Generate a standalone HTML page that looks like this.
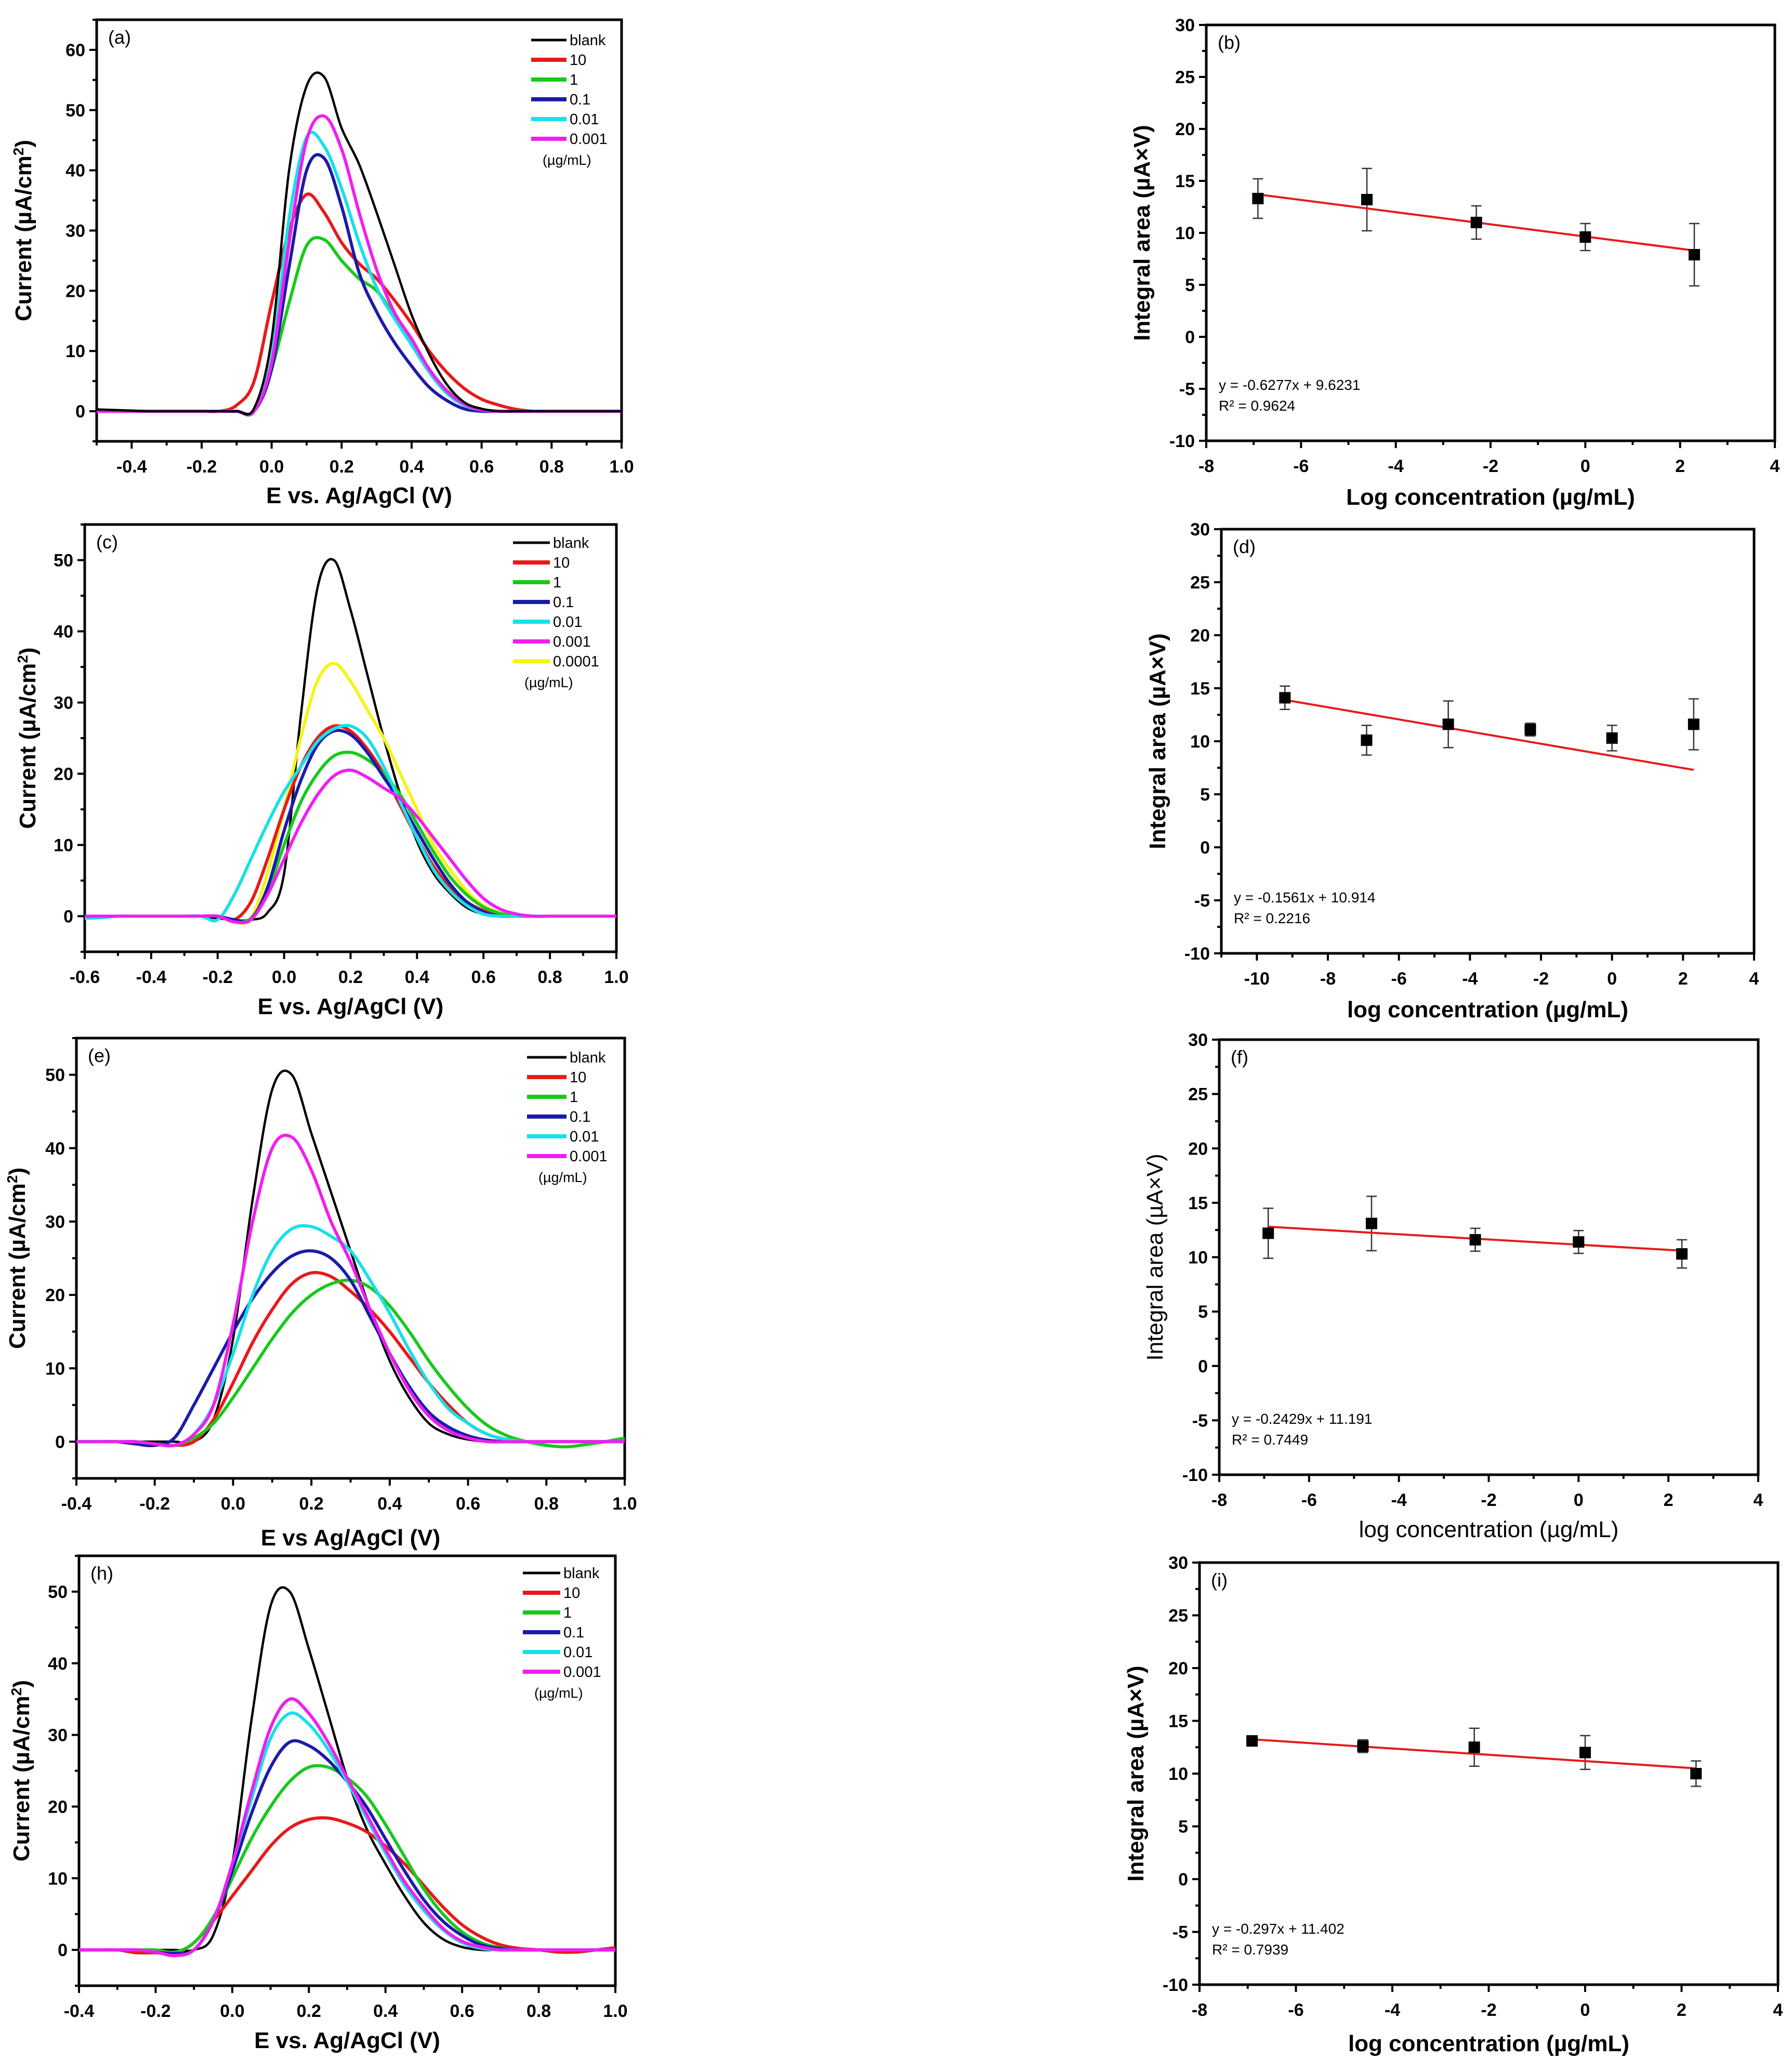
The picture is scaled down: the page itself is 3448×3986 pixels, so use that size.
<!DOCTYPE html>
<html><head><meta charset="utf-8"><style>
html,body{margin:0;padding:0;background:#fff;}
svg{display:block;}
text{font-family:"Liberation Sans",Arial,sans-serif;}
</style></head><body>
<svg id="fig" xmlns="http://www.w3.org/2000/svg" width="3448" height="3986" viewBox="0 0 3448 3986"></svg>
<script>
// ---------- DATA ----------
const E_A = [-0.5,-0.45,-0.4,-0.35,-0.3,-0.25,-0.2,-0.15,-0.1,-0.05,0,0.05,0.1,0.15,0.2,0.25,0.3,0.35,0.4,0.45,0.5,0.55,0.6,0.65,0.7,0.75,0.8,0.85,0.9,0.95,1.0];
const A_blank = [0.3,0.2,0.1,0,0,0,0,0,0,0.5,12,40,54,55.5,47,41,33,24.5,16,9.5,4.5,1.5,0.4,0,0,0,0,0,0,0,0];
const A_10    = [0,0,0,0,0,0,0,0,1,5,18,30,36,33,28,24.5,22,18.5,14.5,10,6.5,3.8,2,1,0.3,0,0,0,0,0,0];
const A_1     = [0,0,0,0,0,0,0,0,0,0,7,18,27.5,28.5,25,22,20,16,11.7,7,3.5,1.3,0.3,0,0,0,0,0,0,0,0];
const A_01    = [0,0,0,0,0,0,0,0,0,0,7,24,40,42,34,23,16.5,11.5,7.5,4,1.8,0.4,0,0,0,0,0,0,0,0,0];
const A_001   = [0,0,0,0,0,0,0,0,0,0,9,32,45.5,44,37,28,20.5,15.5,11,6.5,3,1,0.2,0,0,0,0,0,0,0,0];
const A_0001  = [0,0,0,0,0,0,0,0,0,0,8,28,45,49,43.5,33,23.5,16.5,12,7,3.4,1.2,0.2,0,0,0,0,0,0,0,0];

const E_C = [-0.6,-0.55,-0.5,-0.45,-0.4,-0.35,-0.3,-0.25,-0.2,-0.15,-0.1,-0.05,0,0.05,0.1,0.15,0.2,0.25,0.3,0.35,0.4,0.45,0.5,0.55,0.6,0.65,0.7,0.75,0.8,0.85,0.9,0.95,1.0];
const C_blank = [0,0,0,0,0,0,0,0,-0.3,-0.5,-0.5,0.5,6,28,46,50,43,34,25,17,10.5,6,3.2,1.2,0.3,0,0,0,0,0,0,0,0];
const C_10    = [0,0,0,0,0,0,0,0,0,-0.5,2,8,15,21,25,26.7,26,23.5,20,15.5,11,7,4,2,0.8,0.2,0,0,0,0,0,0,0];
const C_1     = [0,0,0,0,0,0,0,0,0,-0.5,-0.3,3.5,10,16,20,22.5,23,22,20,17,13,9,5.5,3,1.3,0.4,0,0,0,0,0,0,0];
const C_01    = [0,0,0,0,0,0,0,0,0,-0.5,-0.5,4,12,19,24,26,25.5,23,19.5,16,12,8,4.5,2,0.6,0,0,0,0,0,0,0,0];
const C_001   = [-0.3,-0.2,0,0,0,0,0,0,-0.5,3,8,13,17.5,21,24.5,26.3,26.7,25,21,16,11,6.5,3.5,1.5,0.3,0,0,0,0,0,0,0,0];
const C_0001  = [0,0,0,0,0,0,0,0,0,-0.8,-0.5,3,8,13,17,19.7,20.5,19.5,18,16.5,14,11,8,5,2.5,1,0.3,0,0,0,0,0,0];
const C_00001 = [0,0,0,0,0,0,0,0,0,-0.8,-0.3,6,15,25,33,35.5,33,29,25,20,15,10,6.5,3.5,1.5,0.5,0,0,0,0,0,0,0];

const E_E = [-0.4,-0.35,-0.3,-0.25,-0.2,-0.15,-0.1,-0.05,0,0.05,0.1,0.15,0.2,0.25,0.3,0.35,0.4,0.45,0.5,0.55,0.6,0.65,0.7,0.75,0.8,0.85,0.9,0.95,1.0];
const EE_blank = [0,0,0,0,0,0,0,3,14,33,48,50,42,34,26,18,11,6,2.5,1,0.3,0,0,0,0,0,0,0,0];
const EE_10    = [0,0,0,0,-0.3,-0.5,0,3,8,13.5,18,21.5,23,22.5,20.5,18,15,11.5,8,5,2.5,1,0.3,0,0,0,0,0,0];
const EE_1     = [0,0,0,0,-0.3,-0.5,0.5,2.5,6,10,14,17.5,20,21.5,22,21,18.5,15,11,7.5,4.5,2.2,0.8,0,-0.5,-0.7,-0.4,0,0.5];
const EE_01    = [0,0,0,-0.3,-0.5,0.5,5,10,15,19.5,23,25.3,26,25,22,17,12,7.5,4,2,0.8,0.2,0,0,0,0,0,0,0];
const EE_001   = [0,0,0,0,-0.3,-0.5,1,5,12,20,26,29,29.3,28,26,22,17.5,12.5,8,4.5,2.5,1,0.3,0,0,0,0,0,0];
const EE_0001  = [0,0,0,0,-0.3,-0.5,1,5,16,30,40,41.5,37,30,24.5,18,12,7,3.5,1.5,0.5,0,0,0,0,0,0,0,0];

const E_H = [-0.4,-0.35,-0.3,-0.25,-0.2,-0.15,-0.1,-0.05,0,0.05,0.1,0.15,0.2,0.25,0.3,0.35,0.4,0.45,0.5,0.55,0.6,0.65,0.7,0.75,0.8,0.85,0.9,0.95,1.0];
const H_blank = [0,0,0,0,0,0,0,2,12,32,48,50,42,33,24,17,12,7.5,3.8,1.5,0.4,0,0,0,0,0,0,0,0];
const H_10    = [0,0,0,-0.4,-0.4,-0.5,1,4,7.5,11,14.5,17,18.2,18.4,17.7,16.5,14.5,12,9,6,3.5,1.8,0.7,0.2,0,-0.3,-0.3,0,0.3];
const H_1     = [0,0,0,0,0,-0.3,1,4.5,10,15.5,20,23.5,25.5,25.5,24,21.5,17.5,13,8.5,5,2.5,1,0.3,0,0,0,0,0,0];
const H_01    = [0,0,0,0,-0.3,-0.5,0,4,11,19,25.5,29,28.5,26.5,23.5,20,15.5,11,7,4,2,0.7,0.2,0,0,0,0,0,0];
const H_001   = [0,0,0,0,-0.3,-0.8,0,4,12,21,29.5,33,31.5,28,23.5,18.5,13.5,9,5.5,2.8,1,0.2,0,0,0,0,0,0,0];
const H_0001  = [0,0,0,0,-0.3,-0.8,0,4,12,22,31,35,33,29,24,19,14,9.5,6,3,1.2,0.4,0,0,0,0,0,0,0];

const B_x = [-6.91,-4.61,-2.30,0,2.30];
const B_y = [13.3,13.2,11.0,9.6,7.9];
const B_err = [1.9,3.0,1.6,1.3,3.0];
const B_fit = [13.7,8.3];
const D_x = [-9.21,-6.91,-4.61,-2.30,0,2.30];
const D_y = [14.1,10.1,11.6,11.1,10.3,11.6];
const D_err = [1.1,1.4,2.2,0.6,1.2,2.4];
const D_fit = [13.9,7.3];
const F_x = [-6.91,-4.61,-2.30,0,2.30];
const F_y = [12.2,13.1,11.6,11.4,10.3];
const F_err = [2.3,2.5,1.05,1.05,1.3];
const F_fit = [12.8,10.6];
const I_x = [-6.91,-4.61,-2.30,0,2.30];
const I_y = [13.1,12.6,12.5,12.0,10.0];
const I_err = [0.25,0.6,1.8,1.6,1.2];
const I_fit = [13.25,10.5];

// ---------- DRAW ----------
const NS = "http://www.w3.org/2000/svg";
const svg = document.getElementById('fig');
function mk(tag, attrs, parent){
  const e = document.createElementNS(NS, tag);
  for (const k in attrs) e.setAttribute(k, attrs[k]);
  (parent||svg).appendChild(e);
  return e;
}
function txt(s, attrs, parent){ const t = mk('text', attrs, parent); t.textContent = s; return t; }
function fmt(v, d){ return (Math.abs(v)<1e-9?0:v).toFixed(d); }

function axes(g, c){
  const sx = v => c.L + (v - c.x0)/(c.x1 - c.x0)*(c.R - c.L);
  const sy = v => c.B - (v - c.y0)/(c.y1 - c.y0)*(c.B - c.T);
  const frame = mk('rect', {x:c.L, y:c.T, width:c.R-c.L, height:c.B-c.T, fill:'none', stroke:'#000', 'stroke-width':5}, g);
  
  
  for (let v = c.yt0; v <= c.y1 + 1e-9; v += c.ymin){
    const major = Math.abs(Math.round(v/c.ymaj)*c.ymaj - v) < 1e-6;
    mk('line', {x1:c.L, x2:c.L - (major?14:8), y1:sy(v), y2:sy(v), stroke:'#000', 'stroke-width':4}, g);
    if (major){
      const t = txt(fmt(v, c.yd), {x:c.L-22, y:sy(v)+12, 'font-size':34, 'font-weight':'bold', 'text-anchor':'end'}, g);
      
      
    }
  }
  for (let v = c.xt0; v <= c.x1 + 1e-9; v += c.xmin){
    const major = Math.abs(Math.round(v/c.xmaj)*c.xmaj - v) < 1e-6;
    mk('line', {x1:sx(v), x2:sx(v), y1:c.B, y2:c.B + (major?14:8), stroke:'#000', 'stroke-width':4}, g);
    if (major){
      const t = txt(fmt(v, c.xd), {x:sx(v), y:c.B+60, 'font-size':34, 'font-weight':'bold', 'text-anchor':'middle'}, g);
      
      
    }
  }
  const xl = txt(c.xlabel, {x:(c.L+c.R)/2, y:c.xly+10, 'font-size':44, 'font-weight':c.bold?'bold':'normal', 'text-anchor':'middle'}, g);
  
  
  const yl = txt('', {x:0, y:0, 'font-size':44, 'font-weight':c.bold?'bold':'normal', 'text-anchor':'middle', transform:`translate(${c.ylx},${(c.T+c.B)/2}) rotate(-90)`}, g);
  yl.innerHTML = c.ylabel;
  
  
  const pl = txt(c.tag, {x:c.L+22, y:c.T+46, 'font-size':36}, g);
  
  
  return {sx, sy};
}

function smoothPath(pts){
  let d = `M${pts[0][0].toFixed(1)},${pts[0][1].toFixed(1)}`;
  for (let i = 0; i < pts.length-1; i++){
    const p0 = pts[Math.max(0,i-1)], p1 = pts[i], p2 = pts[i+1], p3 = pts[Math.min(pts.length-1,i+2)];
    const c1 = [p1[0]+(p2[0]-p0[0])/6, p1[1]+(p2[1]-p0[1])/6];
    const c2 = [p2[0]-(p3[0]-p1[0])/6, p2[1]-(p3[1]-p1[1])/6];
    d += `C${c1[0].toFixed(1)},${c1[1].toFixed(1)} ${c2[0].toFixed(1)},${c2[1].toFixed(1)} ${p2[0].toFixed(1)},${p2[1].toFixed(1)}`;
  }
  return d;
}

const COL = {blank:'#000000', '10':'#e8191b', '1':'#19c81c', '0.1':'#1b1ba8', '0.01':'#17e0e8', '0.001':'#f01ef0', '0.0001':'#f4f418'};

function cvPanel(c, E, series, leg){
  const g = mk('g', {});
  
  
  const {sx, sy} = axes(g, c);
  series.forEach(s => {
    const pts = E.map((e,i) => [sx(e), sy(s.v[i])]);
    const p = mk('path', {d:smoothPath(pts), fill:'none', stroke:COL[s.k], 'stroke-width':s.k==='blank'?4.5:6, 'stroke-linejoin':'round'}, g);
    
    
  });
  const lg = mk('g', {}, g);
  
  
  leg.keys.forEach((k,i) => {
    const y = c.T + leg.dy + i*38;
    mk('line', {x1:c.R+leg.x1, x2:c.R+leg.x2, y1:y, y2:y, stroke:COL[k], 'stroke-width':k==='blank'?5:8}, lg);
    const t = txt(k, {x:c.R+leg.x2+6, y:y+10, 'font-size':29}, lg);
    
    
  });
  const u = txt('(\u00b5g/mL)', {x:c.R+leg.x1+22, y:c.T+leg.dy+leg.keys.length*38+12, 'font-size':27}, lg);
  
  
}

function calPanel(c, X, Y, ERR, FIT, eq, r2){
  const g = mk('g', {});
  
  
  const {sx, sy} = axes(g, c);
  X.forEach((x,i) => {
    const eb = mk('g', {}, g);
    
    
    mk('line', {x1:sx(x), x2:sx(x), y1:sy(Y[i]-ERR[i]), y2:sy(Y[i]+ERR[i]), stroke:'#333', 'stroke-width':2.5}, eb);
    mk('line', {x1:sx(x)-10, x2:sx(x)+10, y1:sy(Y[i]-ERR[i]), y2:sy(Y[i]-ERR[i]), stroke:'#333', 'stroke-width':2.5}, eb);
    mk('line', {x1:sx(x)-10, x2:sx(x)+10, y1:sy(Y[i]+ERR[i]), y2:sy(Y[i]+ERR[i]), stroke:'#333', 'stroke-width':2.5}, eb);
  });
  const fl = mk('line', {x1:sx(X[0]), x2:sx(X[X.length-1]), y1:sy(FIT[0]), y2:sy(FIT[1]), stroke:'#e8191b', 'stroke-width':4}, g);
  
  
  X.forEach((x,i) => {
    const m = mk('rect', {x:sx(x)-11, y:sy(Y[i])-11, width:22, height:22, fill:'#000'}, g);
    
    
  });
  const e1 = txt(eq, {x:c.L+24, y:c.B-98, 'font-size':28}, g);
  
  
  const e2 = txt(r2, {x:c.L+24, y:c.B-58, 'font-size':28}, g);
  
  
}

const YL_CV = 'Current (\u00b5A/cm<tspan baseline-shift="super" font-size="28">2</tspan>)';
const YL_CAL = 'Integral area (\u00b5A\u00d7V)';
const cvAx = {x1:1.0, xmaj:0.2, xmin:0.1, xd:1, y0:-5, ymaj:10, ymin:5, yd:0, bold:true};
const calAx = {y0:-10, y1:30, yt0:-10, ymaj:5, ymin:2.5, yd:0, xmaj:2, xmin:1, xd:0, x1:4};

cvPanel(Object.assign({}, cvAx, {id:'a', tag:'(a)', L:186, R:1196, T:38, B:849, x0:-0.5, xt0:-0.5, y1:65, yt0:-5, xly:958, ylx:60, xlabel:'E vs. Ag/AgCl (V)', ylabel:YL_CV}),
  E_A, [{k:'10',v:A_10},{k:'1',v:A_1},{k:'0.1',v:A_01},{k:'0.01',v:A_001},{k:'0.001',v:A_0001},{k:'blank',v:A_blank}],
  {keys:['blank','10','1','0.1','0.01','0.001'], x1:-174, x2:-106, dy:39});
cvPanel(Object.assign({}, cvAx, {id:'c', tag:'(c)', L:163, R:1186, T:1009, B:1831, x0:-0.6, xt0:-0.6, y1:55, yt0:-5, xly:1941, ylx:68, xlabel:'E vs. Ag/AgCl (V)', ylabel:YL_CV}),
  E_C, [{k:'blank',v:C_blank},{k:'0.0001',v:C_00001},{k:'10',v:C_10},{k:'1',v:C_1},{k:'0.1',v:C_01},{k:'0.01',v:C_001},{k:'0.001',v:C_0001}],
  {keys:['blank','10','1','0.1','0.01','0.001','0.0001'], x1:-199, x2:-128, dy:35});
cvPanel(Object.assign({}, cvAx, {id:'e', tag:'(e)', L:147, R:1202, T:1997, B:2844, x0:-0.4, xt0:-0.4, y1:55, yt0:-5, xly:2963, ylx:48, xlabel:'E vs Ag/AgCl (V)', ylabel:YL_CV}),
  E_E, [{k:'blank',v:EE_blank},{k:'10',v:EE_10},{k:'1',v:EE_1},{k:'0.1',v:EE_01},{k:'0.01',v:EE_001},{k:'0.001',v:EE_0001}],
  {keys:['blank','10','1','0.1','0.01','0.001'], x1:-188, x2:-112, dy:37});
cvPanel(Object.assign({}, cvAx, {id:'h', tag:'(h)', L:152, R:1184, T:2993, B:3820, x0:-0.4, xt0:-0.4, y1:55, yt0:-5, xly:3930, ylx:56, xlabel:'E vs. Ag/AgCl (V)', ylabel:YL_CV}),
  E_H, [{k:'blank',v:H_blank},{k:'10',v:H_10},{k:'1',v:H_1},{k:'0.1',v:H_01},{k:'0.01',v:H_001},{k:'0.001',v:H_0001}],
  {keys:['blank','10','1','0.1','0.01','0.001'], x1:-178, x2:-106, dy:33});

calPanel(Object.assign({}, calAx, {id:'b', tag:'(b)', L:2321, R:3415, T:48, B:848, x0:-8, xt0:-8, xly:961, ylx:2212, bold:true, xlabel:'Log concentration (\u00b5g/mL)', ylabel:YL_CAL}),
  B_x, B_y, B_err, B_fit, 'y = -0.6277x + 9.6231', 'R\u00b2 = 0.9624');
calPanel(Object.assign({}, calAx, {id:'d', tag:'(d)', L:2350, R:3375, T:1018, B:1834, x0:-11, xt0:-11, xly:1947, ylx:2242, bold:true, xlabel:'log concentration (\u00b5g/mL)', ylabel:YL_CAL}),
  D_x, D_y, D_err, D_fit, 'y = -0.1561x + 10.914', 'R\u00b2 = 0.2216');
calPanel(Object.assign({}, calAx, {id:'f', tag:'(f)', L:2346, R:3383, T:2000, B:2837, x0:-8, xt0:-8, xly:2947, ylx:2237, bold:false, xlabel:'log concentration (\u00b5g/mL)', ylabel:YL_CAL}),
  F_x, F_y, F_err, F_fit, 'y = -0.2429x + 11.191', 'R\u00b2 = 0.7449');
calPanel(Object.assign({}, calAx, {id:'i', tag:'(i)', L:2308, R:3421, T:3006, B:3818, x0:-8, xt0:-8, xly:3936, ylx:2200, bold:true, xlabel:'log concentration (\u00b5g/mL)', ylabel:YL_CAL}),
  I_x, I_y, I_err, I_fit, 'y = -0.297x + 11.402', 'R\u00b2 = 0.7939');
</script>
</body></html>
